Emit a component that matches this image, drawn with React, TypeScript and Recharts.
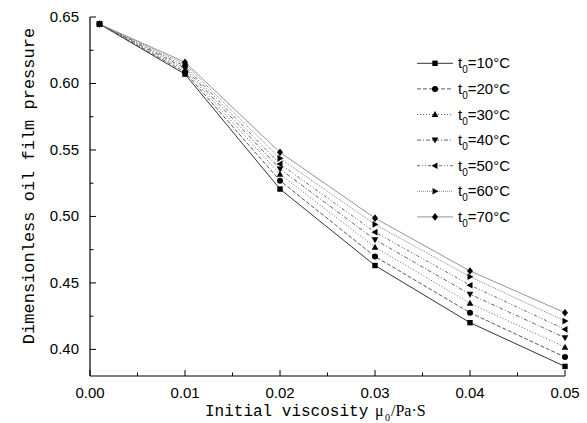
import React from 'react';
import { LineChart, Line, XAxis, YAxis, Legend } from 'recharts';

const viscosity = [0.001, 0.01, 0.02, 0.03, 0.04, 0.05];
const t10 = [0.6447, 0.607, 0.5206, 0.4631, 0.4201, 0.3872];
const t20 = [0.6447, 0.6085, 0.5269, 0.4699, 0.4276, 0.3942];
const t30 = [0.6447, 0.61, 0.5318, 0.4769, 0.4347, 0.4017];
const t40 = [0.6447, 0.6115, 0.5357, 0.4825, 0.4415, 0.4088];
const t50 = [0.6447, 0.613, 0.5395, 0.4882, 0.4483, 0.4151];
const t60 = [0.6447, 0.6145, 0.5437, 0.494, 0.4547, 0.4213];
const t70 = [0.6447, 0.616, 0.5482, 0.4987, 0.459, 0.4276];

const seriesNames = ['10', '20', '30', '40', '50', '60', '70'];
const xMajor = [0, 0.01, 0.02, 0.03, 0.04, 0.05];
const xMinor = [0.005, 0.015, 0.025, 0.035, 0.045];
const yMajor = [0.4, 0.45, 0.5, 0.55, 0.6, 0.65];
const yMinor = [0.425, 0.475, 0.525, 0.575, 0.625];

const allSeries = [t10, t20, t30, t40, t50, t60, t70];
const data = viscosity.map((x, i) => {
  const row: any = { x };
  allSeries.forEach((s, k) => {
    row['t' + seriesNames[k]] = s[i];
  });
  return row;
});

const styles = [
  { shape: 'square', dash: undefined, color: '#333', w: 1 },
  { shape: 'circle', dash: '4 2', color: '#444', w: 0.9 },
  { shape: 'up', dash: '1 2', color: '#555', w: 0.9 },
  { shape: 'down', dash: '4 2 1 2', color: '#555', w: 0.9 },
  { shape: 'left', dash: '3 2 1 2 1 2', color: '#555', w: 0.9 },
  { shape: 'right', dash: '1 1', color: '#777', w: 0.9 },
  { shape: 'diamond', dash: undefined, color: '#888', w: 0.9 },
];

const Marker = ({ kind, cx, cy }: { kind: string; cx: number; cy: number }) => {
  const s = 3;
  switch (kind) {
    case 'square':
      return <rect x={cx - 2.7} y={cy - 2.7} width={5.4} height={5.4} fill="#000" />;
    case 'circle':
      return <circle cx={cx} cy={cy} r={3} fill="#000" />;
    case 'up':
      return <polygon points={`${cx},${cy - 3.5} ${cx + 3.3},${cy + 2.5} ${cx - 3.3},${cy + 2.5}`} fill="#000" />;
    case 'down':
      return <polygon points={`${cx},${cy + 3.5} ${cx + 3.3},${cy - 2.5} ${cx - 3.3},${cy - 2.5}`} fill="#000" />;
    case 'left':
      return <polygon points={`${cx - 3.5},${cy} ${cx + 2.5},${cy - 3.3} ${cx + 2.5},${cy + 3.3}`} fill="#000" />;
    case 'right':
      return <polygon points={`${cx + 3.5},${cy} ${cx - 2.5},${cy - 3.3} ${cx - 2.5},${cy + 3.3}`} fill="#000" />;
    default:
      return <polygon points={`${cx},${cy - 3.8} ${cx + s},${cy} ${cx},${cy + 3.8} ${cx - s},${cy}`} fill="#000" />;
  }
};

const near = (arr: number[], v: number) => arr.some((a) => Math.abs(a - v) < 1e-9);

const XTick = (props: any) => {
  const { x, y, payload } = props;
  const major = near(xMajor, payload.value);
  return (
    <g>
      <line x1={x} x2={x} y1={y} y2={y - (major ? 6 : 3.5)} stroke="#000" strokeWidth={1} />
      {major && (
        <text x={x} y={y + 22} textAnchor="middle" fontFamily="'Liberation Sans', Arial, sans-serif" fontSize={15} fill="#000">
          {payload.value.toFixed(2)}
        </text>
      )}
    </g>
  );
};

const YTick = (props: any) => {
  const { x, y, payload } = props;
  const major = near(yMajor, payload.value);
  return (
    <g>
      <line x1={x} x2={x + (major ? 6 : 3.5)} y1={y} y2={y} stroke="#000" strokeWidth={1} />
      {major && (
        <text x={x - 11} y={y + 5} textAnchor="end" fontFamily="'Liberation Sans', Arial, sans-serif" fontSize={15} fill="#000">
          {payload.value.toFixed(2)}
        </text>
      )}
    </g>
  );
};

const XTitle = () => (
  <g>
    <text x={205} y={416} fontFamily="'Liberation Mono', monospace" fontSize={16} fill="#000">
      Initial viscosity
    </text>
    <text x={375} y={416} fontFamily="'Liberation Serif', serif" fontSize={16} fill="#000">
      μ
    </text>
    <text x={385} y={421} fontFamily="'Liberation Serif', serif" fontSize={10} fill="#000">
      0
    </text>
    <text x={391} y={416} fontFamily="'Liberation Serif', serif" fontSize={16} fill="#000">
      /Pa·S
    </text>
  </g>
);

const YTitle = () => (
  <text
    x={0}
    y={0}
    transform="translate(34,186) rotate(-90)"
    textAnchor="middle"
    fontFamily="'Liberation Mono', monospace"
    fontSize={17}
    fill="#000"
  >
    Dimensionless oil film pressure
  </text>
);

const renderLegend = () => (
  <svg width={150} height={185}>
    {seriesNames.map((n, i) => {
      const cy = 13.3 + i * 25.6;
      const st = styles[i];
      return (
        <g key={n}>
          <line x1={7} x2={43} y1={cy} y2={cy} stroke={st.color} strokeWidth={st.w} strokeDasharray={st.dash} />
          <Marker kind={st.shape} cx={25} cy={cy} />
          <text x={48} y={cy + 5} fontFamily="'Liberation Sans', Arial, sans-serif" fontSize={15} fill="#000">
            t<tspan fontSize={10} dy={5}>0</tspan>
            <tspan dy={-5}>{'=' + n + '°C'}</tspan>
          </text>
        </g>
      );
    })}
  </svg>
);

export default function App() {
  return (
    <div style={{ position: 'absolute', left: 0, top: 0, width: 587, height: 423, background: '#fff' }}>
      <LineChart width={587} height={423} data={data} margin={{ top: 17, right: 22, bottom: 0, left: 0 }}>
        <XAxis
          type="number"
          dataKey="x"
          domain={[0, 0.05]}
          ticks={[...xMajor, ...xMinor].sort((a, b) => a - b)}
          interval={0}
          tickSize={0}
          tickMargin={0}
          tickLine={false}
          tick={<XTick />}
          height={47}
          stroke="#000"
          axisLine={{ stroke: '#000', strokeWidth: 1.2 }}
          label={<XTitle />}
        />
        <YAxis
          type="number"
          domain={[0.38, 0.65]}
          ticks={[...yMajor, ...yMinor].sort((a, b) => a - b)}
          interval={0}
          tickSize={0}
          tickMargin={0}
          tickLine={false}
          tick={<YTick />}
          width={90}
          axisLine={{ stroke: '#000', strokeWidth: 1.2 }}
          label={<YTitle />}
        />
        <Legend
          layout="horizontal"
          verticalAlign="middle"
          align="center"
          content={renderLegend}
          wrapperStyle={{ left: 410, top: 50, width: 150, height: 185 }}
        />
        {seriesNames.map((n, i) => (
          <Line
            key={n}
            type="linear"
            dataKey={'t' + n}
            stroke={styles[i].color}
            strokeWidth={styles[i].w}
            strokeDasharray={styles[i].dash}
            isAnimationActive={false}
            dot={(p: any) => <Marker key={'m' + n + '-' + p.index} kind={styles[i].shape} cx={p.cx} cy={p.cy} />}
            activeDot={false}
          />
        ))}
      </LineChart>
    </div>
  );
}
